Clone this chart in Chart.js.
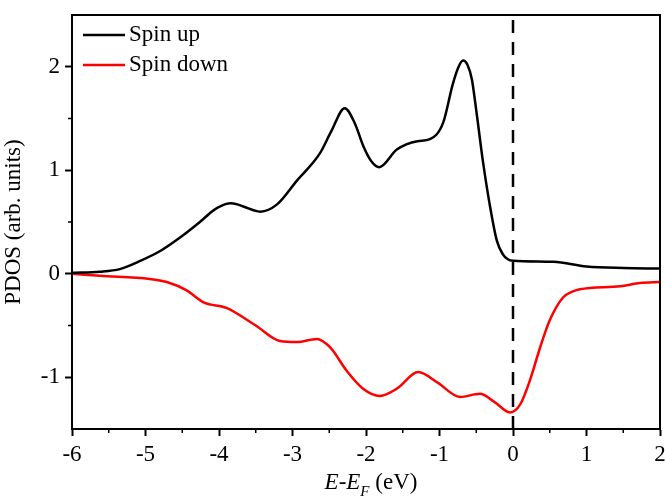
<!DOCTYPE html>
<html>
<head>
<meta charset="utf-8">
<script src="https://cdn.jsdelivr.net/npm/chart.js@4/dist/chart.umd.min.js"></script>
<style>
  html, body { margin: 0; padding: 0; background: #fff; }
  #wrap { width: 665px; height: 496px; position: relative; }
</style>
</head>
<body>
<div id="wrap"><canvas id="pdos"></canvas></div>
<script>
// energy (eV) and PDOS values
const upX = [-6, -5.62, -5.35, -5.07, -4.8, -4.53, -4.26, -4.08, -3.97, -3.85, -3.75, -3.67, -3.44, -3.21, -2.94, -2.63, -2.47, -2.29, -2.15, -2.04, -1.93, -1.82, -1.58, -1.3, -1.13, -0.95, -0.82, -0.74, -0.68, -0.62, -0.56, -0.5, -0.41, -0.31, -0.22, -0.14, -0.07, 0, 0.55, 1.0, 1.5, 2];
const upY = [0.01, 0.02, 0.045, 0.125, 0.22, 0.35, 0.50, 0.61, 0.655, 0.68, 0.67, 0.65, 0.60, 0.67, 0.90, 1.16, 1.38, 1.60, 1.45, 1.24, 1.09, 1.03, 1.20, 1.28, 1.30, 1.46, 1.83, 2.00, 2.06, 2.02, 1.88, 1.58, 1.09, 0.64, 0.32, 0.19, 0.14, 0.125, 0.115, 0.07, 0.055, 0.05];

const downX = [-6, -5.62, -4.94, -4.71, -4.44, -4.2, -3.9, -3.5, -3.17, -2.94, -2.67, -2.49, -2.26, -2.04, -1.81, -1.58, -1.29, -1.03, -0.72, -0.45, -0.25, -0.04, 0.1, 0.23, 0.37, 0.5, 0.68, 0.8, 0.91, 1.46, 1.73, 2];
const downY = [0, -0.02, -0.05, -0.08, -0.16, -0.28, -0.33, -0.50, -0.65, -0.66, -0.63, -0.71, -0.94, -1.11, -1.18, -1.11, -0.95, -1.05, -1.19, -1.16, -1.24, -1.34, -1.26, -1.03, -0.71, -0.45, -0.23, -0.175, -0.15, -0.12, -0.09, -0.08];

const fermiX = [0, 0];
const fermiY = [-1.5, 2.5];

const seriesLabels = ['Spin up', 'Spin down'];
const xTicks = [-6, -5, -4, -3, -2, -1, 0, 1, 2];
const yTicks = [-1, 0, 1, 2];

const pts = (xs, ys) => xs.map((x, i) => ({ x, y: ys[i] }));
const SERIF = '"Liberation Serif", "DejaVu Serif", serif';

// box, minor ticks, legend and x title
const decor = {
  id: 'decor',
  afterDraw(chart) {
    const { ctx, chartArea: a, scales: { x, y } } = chart;
    ctx.save();
    ctx.strokeStyle = '#000';
    ctx.lineWidth = 2;
    ctx.strokeRect(a.left, a.top, a.right - a.left, a.bottom - a.top);

    // minor ticks
    ctx.lineWidth = 1.5;
    ctx.beginPath();
    for (let v = -5.5; v < 2; v += 1) {
      const px = x.getPixelForValue(v);
      ctx.moveTo(px, a.bottom); ctx.lineTo(px, a.bottom + 4);
    }
    for (let v = -0.5; v < 2.5; v += 1) {
      const py = y.getPixelForValue(v);
      ctx.moveTo(a.left, py); ctx.lineTo(a.left - 4, py);
    }
    ctx.stroke();

    // legend
    const colors = ['#000', '#ff0000'];
    ctx.font = '23px ' + SERIF;
    ctx.textBaseline = 'middle';
    ctx.fillStyle = '#000';
    seriesLabels.forEach((lab, i) => {
      const ly = 35 + i * 30;
      ctx.strokeStyle = colors[i];
      ctx.lineWidth = 2.5;
      ctx.beginPath(); ctx.moveTo(83, ly); ctx.lineTo(125, ly); ctx.stroke();
      ctx.fillText(lab, 129, ly);
    });

    // x axis title: E-E_F (eV)
    const parts = [
      { t: 'E', f: 'italic 23px ' + SERIF, dy: 0 },
      { t: '-', f: '23px ' + SERIF, dy: 0 },
      { t: 'E', f: 'italic 23px ' + SERIF, dy: 0 },
      { t: 'F', f: 'italic 15px ' + SERIF, dy: 7 },
      { t: ' (eV)', f: '23px ' + SERIF, dy: 0 }
    ];
    let w = 0;
    parts.forEach(p => { ctx.font = p.f; w += ctx.measureText(p.t).width; });
    let cx = 371 - w / 2;
    ctx.textBaseline = 'alphabetic';
    parts.forEach(p => {
      ctx.font = p.f;
      ctx.fillText(p.t, cx, 489 + p.dy);
      cx += ctx.measureText(p.t).width;
    });
    ctx.restore();
  }
};

new Chart(document.getElementById('pdos'), {
  type: 'line',
  data: {
    datasets: [
      { label: seriesLabels[0], data: pts(upX, upY), borderColor: '#000', borderWidth: 2.5, pointRadius: 0, cubicInterpolationMode: 'monotone', fill: false },
      { label: seriesLabels[1], data: pts(downX, downY), borderColor: '#ff0000', borderWidth: 2.5, pointRadius: 0, cubicInterpolationMode: 'monotone', fill: false },
      { label: 'EF', data: pts(fermiX, fermiY), borderColor: '#000', borderWidth: 2.5, borderDash: [13, 9], pointRadius: 0, tension: 0, fill: false }
    ]
  },
  options: {
    responsive: true, maintainAspectRatio: false, animation: false,
    layout: { padding: { left: 0, right: 5, top: 15, bottom: 0 } },
    plugins: { legend: { display: false }, tooltip: { enabled: false } },
    scales: {
      x: {
        type: 'linear', min: -6, max: 2,
        afterBuildTicks: s => { s.ticks = xTicks.map(v => ({ value: v })); },
        afterFit: s => { s.height = 67; s.paddingLeft = 0; s.paddingRight = 0; },
        grid: { display: true, drawOnChartArea: false, tickLength: 7, tickWidth: 2, tickColor: '#000' },
        border: { display: true, color: '#000', width: 2 },
        ticks: { color: '#000', font: { family: SERIF, size: 23 }, padding: 5, maxRotation: 0 }
      },
      y: {
        type: 'linear', min: -1.5, max: 2.5,
        afterBuildTicks: s => { s.ticks = yTicks.map(v => ({ value: v })); },
        afterFit: s => { s.width = 72; s.paddingTop = 0; s.paddingBottom = 0; },
        grid: { display: true, drawOnChartArea: false, tickLength: 7, tickWidth: 2, tickColor: '#000' },
        border: { display: true, color: '#000', width: 2 },
        ticks: { color: '#000', font: { family: SERIF, size: 23 }, padding: 5 },
        title: { display: true, text: 'PDOS (arb. units)', color: '#000', font: { family: SERIF, size: 23 }, padding: { top: 0, bottom: 2 } }
      }
    }
  },
  plugins: [decor]
});
</script>
</body>
</html>
